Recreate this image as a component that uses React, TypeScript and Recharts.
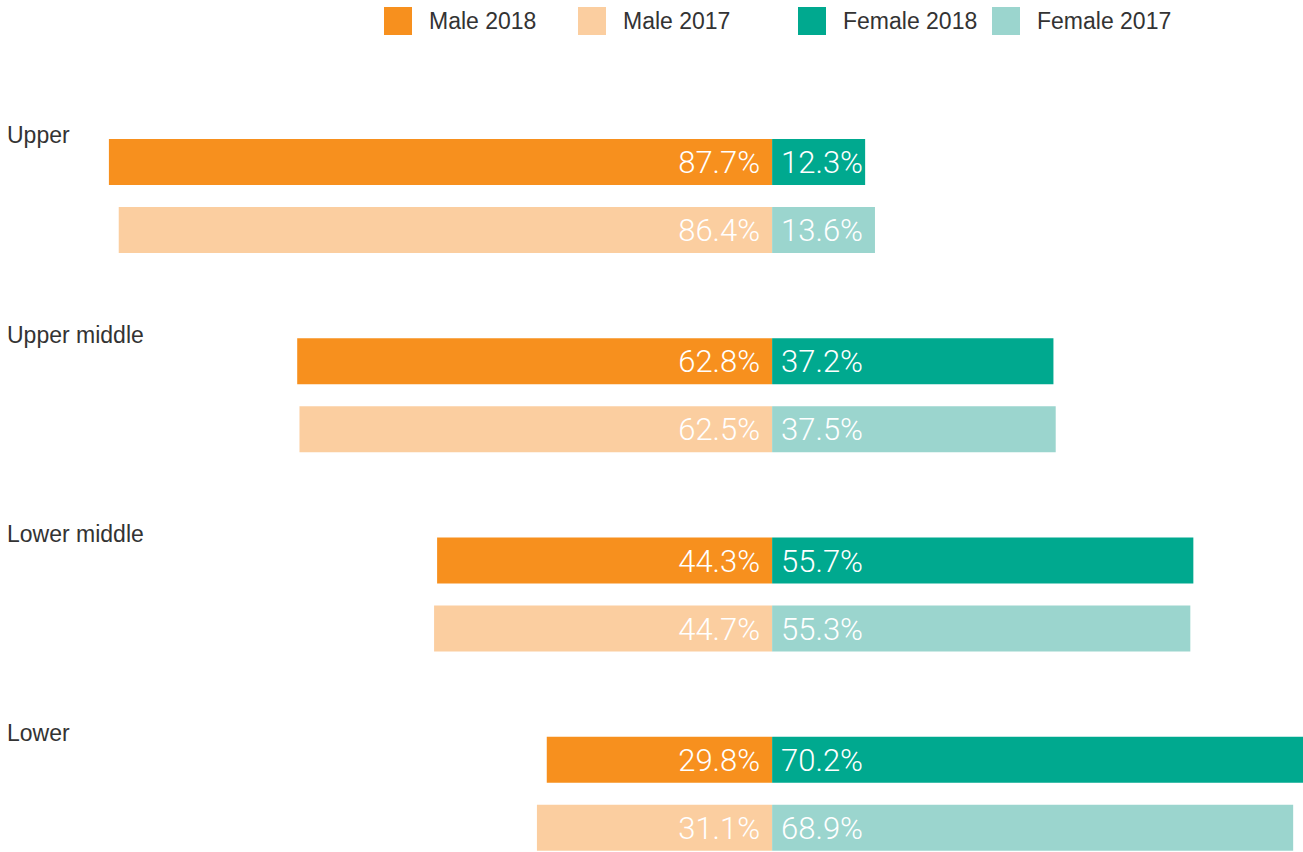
import { BarChart, Bar, XAxis, YAxis, Legend, LabelList } from "recharts";

const categories = ["Upper", "Upper middle", "Lower middle", "Lower"];
const male2018 = [87.7, 62.8, 44.3, 29.8];
const female2018 = [12.3, 37.2, 55.7, 70.2];
const male2017 = [86.4, 62.5, 44.7, 31.1];
const female2017 = [13.6, 37.5, 55.3, 68.9];

const COLORS = {
  male2018: "#f7901e",
  male2017: "#fbcea0",
  female2018: "#00a98f",
  female2017: "#9bd5ce",
};

const legendItems = [
  { key: "male2018", name: "Male 2018", left: 384 },
  { key: "male2017", name: "Male 2017", left: 578 },
  { key: "female2018", name: "Female 2018", left: 798 },
  { key: "female2017", name: "Female 2017", left: 992 },
];

// males go left of zero, females right
const data = categories.map((name, i) => ({
  name,
  male2018: -male2018[i],
  female2018: female2018[i],
  male2017: -male2017[i],
  female2017: female2017[i],
}));

const TEXT = "#333333";
const LABEL_FONT = "Roboto, 'Liberation Sans', sans-serif";
const FONT = "'Liberation Sans', Arial, sans-serif";

function ValueLabel(props: any) {
  const { x, y, width, height, value, side } = props;
  const left = Math.min(x, x + width);
  const right = Math.max(x, x + width);
  const cy = y + height / 2;
  const txt = `${Math.abs(value).toFixed(1)}%`;
  return (
    <text
      x={side === "left" ? right - 12 : left + 9}
      y={cy}
      dy="0.36em"
      textAnchor={side === "left" ? "end" : "start"}
      fill="#ffffff"
      fontSize={31}
      fontWeight={300}
      fontFamily={LABEL_FONT}
    >
      {txt}
    </text>
  );
}

// category name sits at the far left, just above the 2018 bar
function CategoryLabel(props: any) {
  const { y, value } = props;
  return (
    <text x={7} y={y - 4} dy="0.36em" textAnchor="start" fill={TEXT} fontSize={23} fontFamily={FONT}>
      {value}
    </text>
  );
}

function LegendContent() {
  return (
    <div style={{ position: "relative", width: 1303, height: 0 }}>
      {legendItems.map((it) => (
        <div
          key={it.key}
          style={{ position: "absolute", left: it.left, top: 7, display: "flex", alignItems: "center" }}
        >
          <span
            style={{ display: "inline-block", width: 28, height: 28, background: (COLORS as any)[it.key] }}
          />
          <span style={{ marginLeft: 17, fontSize: 23, color: TEXT, fontFamily: FONT, lineHeight: "28px", whiteSpace: "nowrap" }}>
            {it.name}
          </span>
        </div>
      ))}
    </div>
  );
}

export default function App() {
  return (
    <div style={{ position: "absolute", left: 0, top: 0, width: 1303, height: 852, overflow: "hidden", background: "#fff" }}>
      <BarChart
        width={1303}
        height={893}
        data={data}
        layout="vertical"
        stackOffset="sign"
        barSize={46}
        barGap={22}
        margin={{ top: 96, right: 0, bottom: 0, left: 0 }}
      >
        <XAxis type="number" domain={[-102.1, 70.2]} hide />
        <YAxis type="category" dataKey="name" hide />
        <Legend
          verticalAlign="top"
          align="left"
          content={<LegendContent />}
          wrapperStyle={{ position: "absolute", top: 0, left: 0, width: 1303, height: 0 }}
        />
        <Bar dataKey="male2018" stackId="a" fill={COLORS.male2018} isAnimationActive={false}>
          <LabelList dataKey="male2018" content={<ValueLabel side="left" />} />
          <LabelList dataKey="name" content={<CategoryLabel />} />
        </Bar>
        <Bar dataKey="female2018" stackId="a" fill={COLORS.female2018} isAnimationActive={false}>
          <LabelList dataKey="female2018" content={<ValueLabel side="right" />} />
        </Bar>
        <Bar dataKey="male2017" stackId="b" fill={COLORS.male2017} isAnimationActive={false}>
          <LabelList dataKey="male2017" content={<ValueLabel side="left" />} />
        </Bar>
        <Bar dataKey="female2017" stackId="b" fill={COLORS.female2017} isAnimationActive={false}>
          <LabelList dataKey="female2017" content={<ValueLabel side="right" />} />
        </Bar>
      </BarChart>
    </div>
  );
}
